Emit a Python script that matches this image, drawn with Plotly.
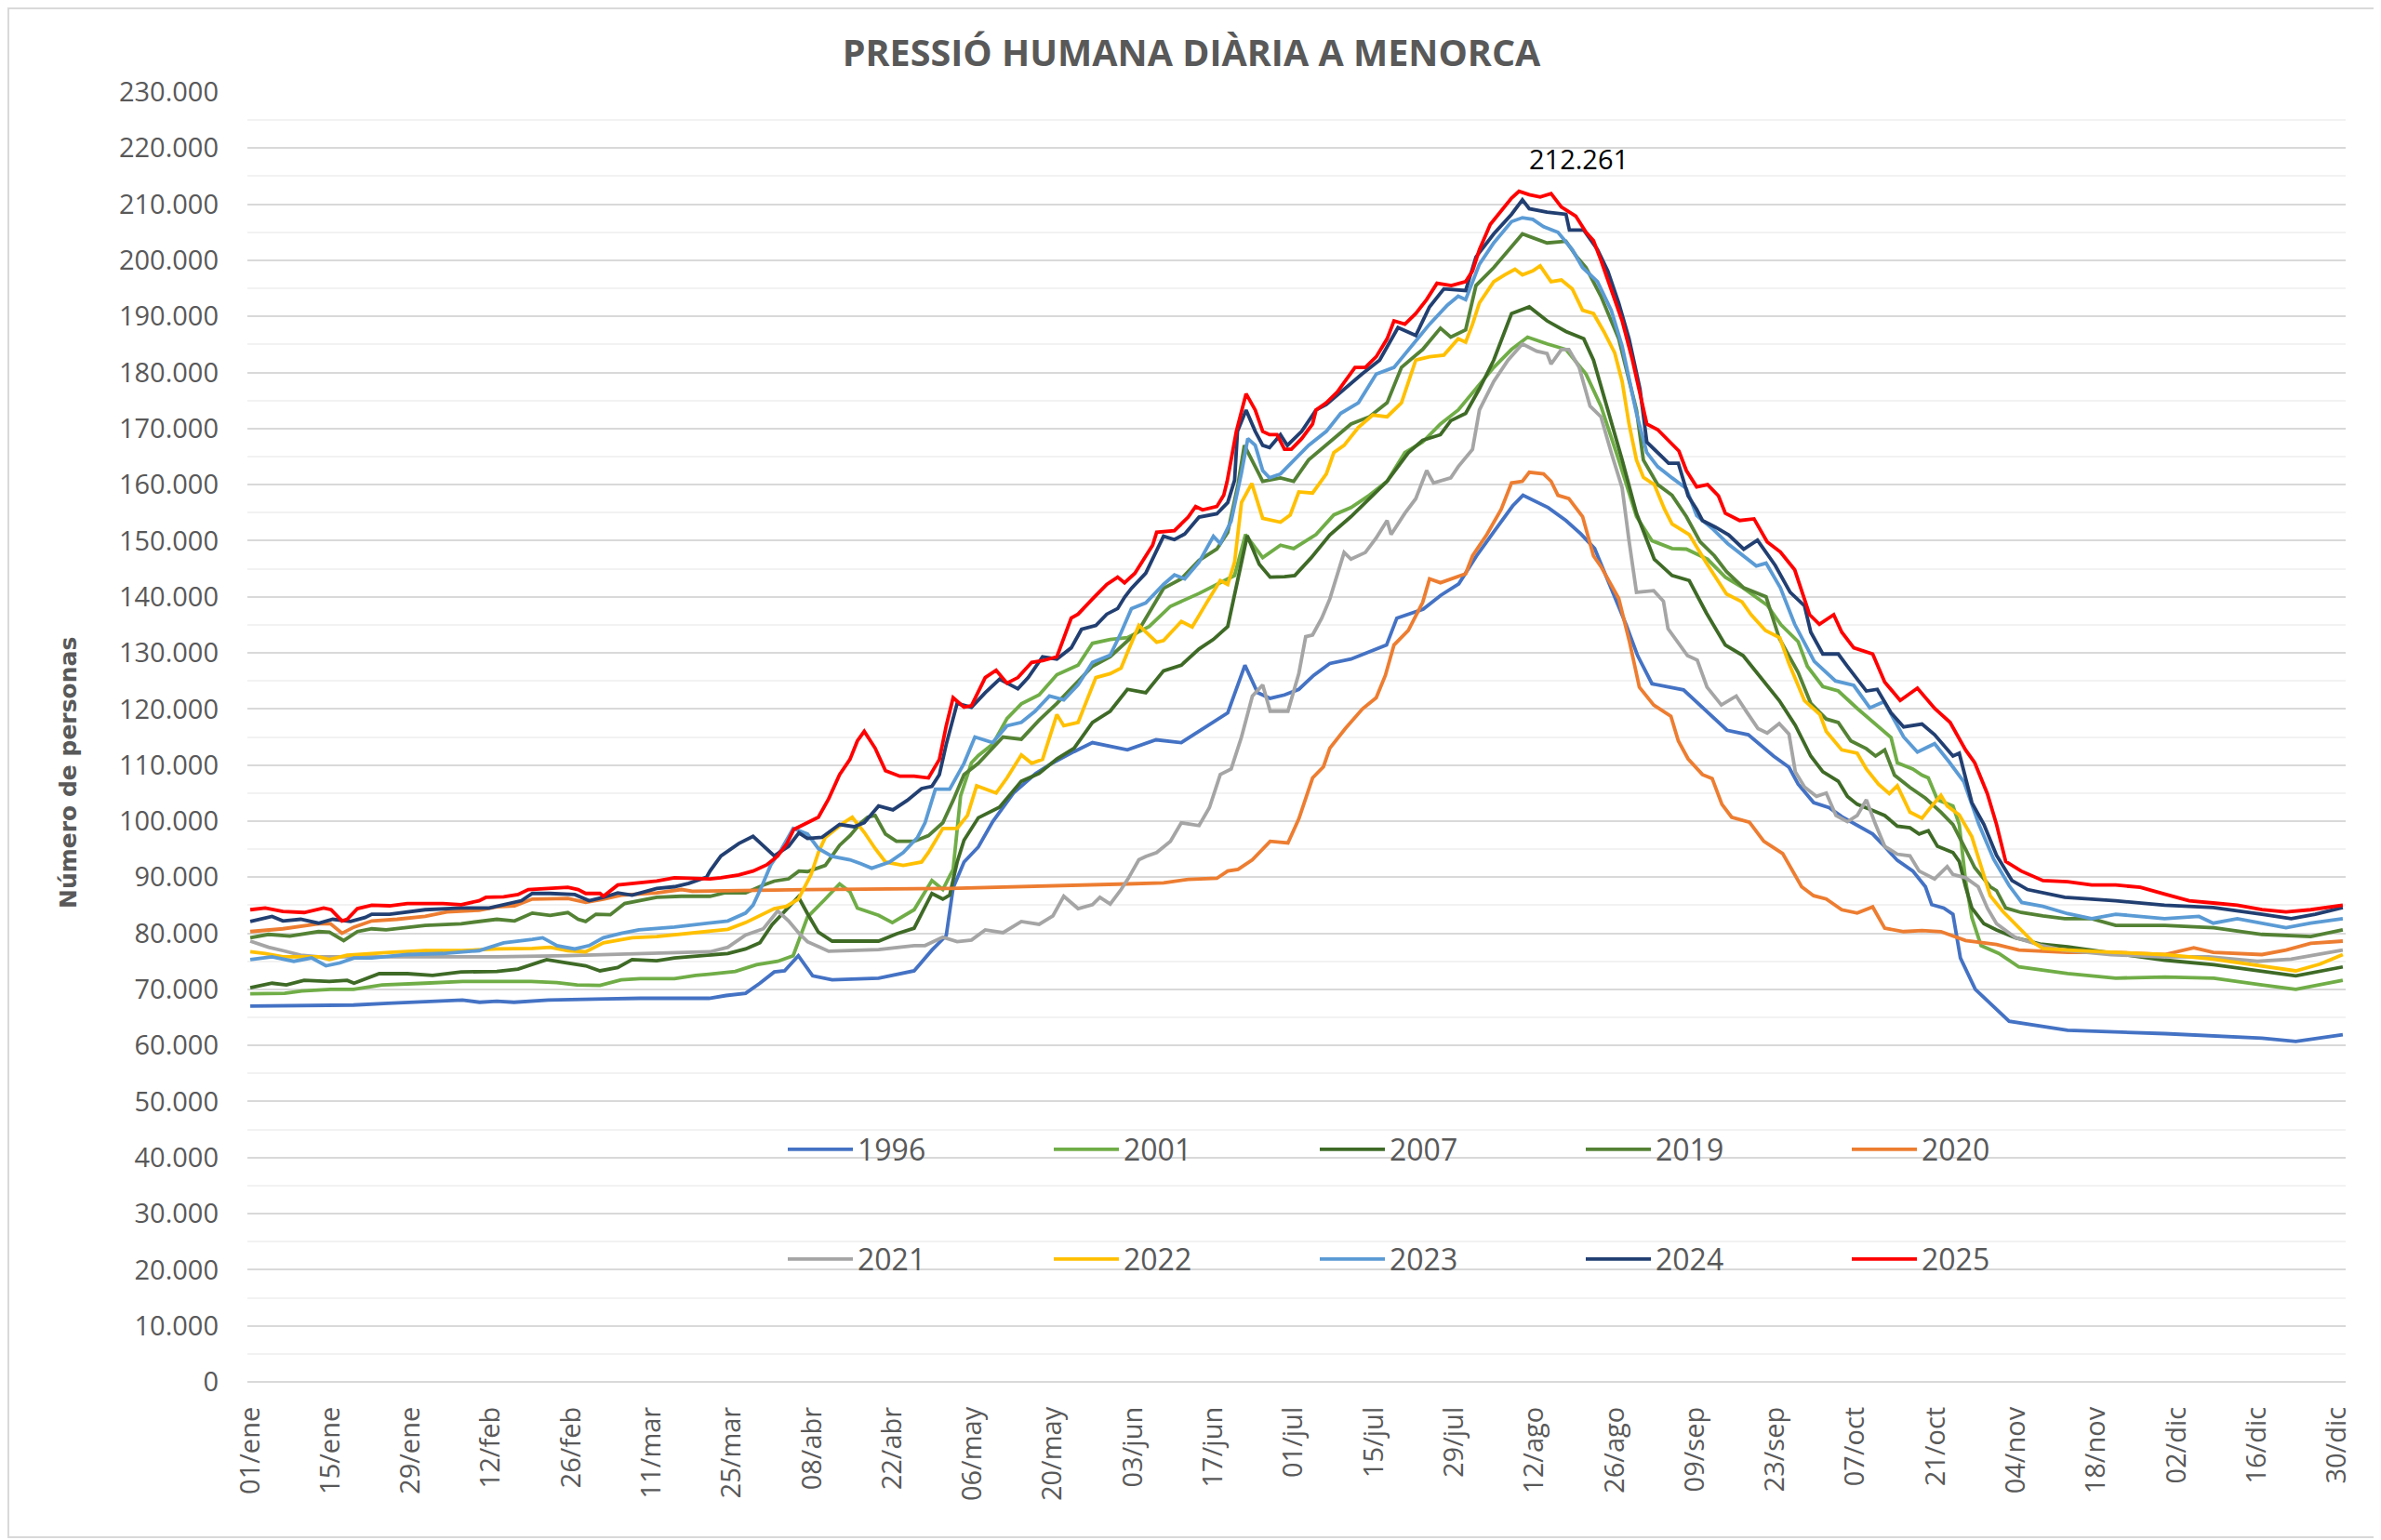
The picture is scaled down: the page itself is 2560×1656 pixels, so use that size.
import plotly.graph_objects as go

# ---------------- DATA (values in thousands of persons, x = day of year 0..365) ----------------
TICK_DAYS = list(range(0, 365, 14))
TICK_LABELS = ["01/ene", "15/ene", "29/ene", "12/feb", "26/feb", "11/mar", "25/mar", "08/abr",
               "22/abr", "06/may", "20/may", "03/jun", "17/jun", "01/jul", "15/jul", "29/jul",
               "12/ago", "26/ago", "09/sep", "23/sep", "07/oct", "21/oct", "04/nov", "18/nov",
               "02/dic", "16/dic", "30/dic"]

YEARS = ["1996", "2001", "2007", "2019", "2020", "2021", "2022", "2023", "2024", "2025"]

D_1996 = [0, 12, 18, 24, 37, 40, 43, 46, 52, 62, 68, 80, 83, 86.4, 88.9, 91.4, 93.2, 95.6, 98.1, 101.5,
          109.6, 115.8, 118.9, 121.4, 122.6, 124.5, 127, 129.5, 133.2, 137, 140, 143.7, 146.9, 153, 158,
          162.4, 165.5, 170.5, 173.5, 175.7, 177.9, 180.4, 182.9, 185.5, 188.3, 192, 198.2, 200, 204.6,
          207.7, 210.8, 213.9, 217, 220.2, 222, 226.4, 229.5, 232.1, 234.5, 237.6, 240, 242, 244.5, 250,
          257.6, 261.3, 265.7, 268.4, 270, 272.7, 275.4, 277.6, 280.3, 283, 284.6, 287.3, 290, 292.2,
          293.3, 295.4, 297, 298.3, 300.9, 304.2, 306.8, 317, 334, 350.9, 356.8, 365]
V_1996 = [67.0, 67.2, 67.2, 67.5, 68.1, 67.7, 67.9, 67.7, 68.1, 68.3, 68.4, 68.4, 68.9, 69.3, 71.1, 73.1,
          73.3, 76.0, 72.4, 71.7, 72.0, 73.3, 77.0, 79.6, 88.1, 92.7, 95.4, 99.9, 105.1, 108.5, 110.4,
          112.4, 114.0, 112.7, 114.5, 114.0, 116.0, 119.3, 127.8, 122.9, 121.9, 122.5, 123.5, 126.0,
          128.1, 128.9, 131.4, 136.2, 137.8, 140.3, 142.3, 147.3, 151.7, 156.2, 158.1, 155.9, 153.6,
          151.2, 148.6, 141.0, 135.0, 129.5, 124.5, 123.4, 116.2, 115.4, 111.6, 109.6, 106.6, 103.3,
          102.4, 100.8, 99.2, 97.7, 96.0, 93.0, 91.1, 88.3, 85.1, 84.5, 83.4, 75.6, 70.0, 66.8, 64.3,
          62.7, 62.1, 61.3, 60.7, 61.9]

D_2001 = [0, 6, 9, 14, 18, 23, 30.5, 37, 49, 53.5, 57, 61, 64.7, 68, 74, 77.7, 80, 84.6, 88.3, 92,
          94.7, 97.2, 100.3, 102.8, 104.6, 105.9, 109.6, 112, 115.8, 118.9, 120.8, 122.6, 123.9, 125.8,
          127, 129.5, 132, 134.5, 137.6, 140.7, 144.4, 146.9, 150, 153, 156.8, 160.5, 165.5, 169.2,
          171.7, 173.6, 176.6, 179.7, 182, 185.9, 189, 192, 195.2, 198.3, 201.4, 204.5, 207.6, 210.7,
          213.8, 216.9, 220, 222.8, 226.2, 229.5, 233, 235.6, 238.7, 241.8, 244.5, 248, 250.5, 254.2,
          257.3, 260.4, 264.6, 267, 270, 271.6, 274.3, 277, 280.3, 284, 286.2, 287.3, 290, 291.6, 292.7,
          294.3, 297, 298.1, 299.2, 300.3, 301.9, 305, 308.5, 317, 325.4, 334, 342.5, 350.9, 356.8, 365]
V_2001 = [69.2, 69.3, 69.7, 70.0, 70.0, 70.8, 71.1, 71.4, 71.4, 71.2, 70.8, 70.7, 71.7, 71.9, 71.9, 72.5,
          72.7, 73.2, 74.4, 75.0, 76.0, 82.9, 86.1, 88.8, 87.4, 84.5, 83.2, 81.9, 84.2, 89.4, 87.8, 91.4,
          104.5, 110.4, 111.7, 113.7, 118.3, 120.9, 122.5, 126.1, 127.8, 131.7, 132.4, 132.7, 134.7,
          138.3, 140.6, 142.5, 143.8, 151.1, 147.0, 149.2, 148.6, 151.1, 154.6, 155.9, 158.1, 160.6,
          165.7, 167.6, 170.8, 173.3, 177.1, 180.9, 184.1, 186.3, 185.1, 184.1, 179.7, 174.0, 164.4,
          154.3, 150.0, 148.6, 148.5, 146.7, 143.5, 141.6, 138.5, 135.0, 132.0, 127.6, 124.0, 123.2,
          120.1, 116.8, 114.9, 110.4, 109.3, 108.2, 107.7, 103.8, 102.7, 99.4, 89.4, 82.8, 77.8, 76.4,
          74.0, 72.8, 72.0, 72.2, 72.0, 70.8, 70.0, 71.6]

D_2007 = [0, 3.8, 6.3, 9.4, 13.8, 16.9, 18.1, 22.5, 27.4, 31.8, 36.8, 43, 46.7, 51.7, 55.4, 58.5, 61,
          64.1, 66.6, 70.9, 74, 80.2, 83.3, 86.4, 88.9, 91, 93.5, 95.6, 97.2, 99.1, 101.5, 109.6, 112.7,
          115.8, 117.1, 118.9, 120.8, 122, 123.3, 124.5, 127, 130.7, 134.5, 137.6, 140.7, 143.7, 146.9,
          150, 153, 156.2, 159.3, 162.4, 165.5, 168, 170.5, 171.7, 173.9, 176, 177.9, 180.4, 182.2, 185,
          188.3, 192, 195.2, 198.3, 202, 204.5, 207.6, 209.4, 212, 214.4, 216.9, 220, 223.1, 226.2,
          229.5, 232.6, 234.3, 236.8, 239.3, 241.8, 244.9, 248, 251, 254, 257.3, 260.4, 264, 266.7,
          269.5, 272.2, 274.3, 277, 278.6, 280.3, 283, 285.1, 287.3, 289.5, 291.1, 292.7, 294.3, 297,
          298.1, 299.2, 300.3, 302.4, 304.6, 307.9, 312.2, 317, 325.4, 334, 342.5, 350.9, 356.8, 365]
V_2007 = [70.3, 71.1, 70.8, 71.6, 71.4, 71.6, 71.1, 72.8, 72.8, 72.5, 73.1, 73.2, 73.6, 75.3, 74.7, 74.2,
          73.3, 73.9, 75.3, 75.1, 75.6, 76.1, 76.4, 77.2, 78.3, 81.5, 84.2, 86.5, 83.5, 80.2, 78.6, 78.6,
          79.9, 80.9, 83.5, 87.1, 86.1, 86.8, 92.7, 96.6, 100.6, 102.5, 107.1, 108.5, 111.1, 113.0,
          117.6, 119.6, 123.5, 122.9, 126.8, 127.8, 130.7, 132.4, 134.7, 140.6, 150.9, 145.8, 143.5,
          143.6, 143.8, 146.9, 151.0, 154.3, 157.5, 160.6, 165.7, 167.9, 168.9, 171.4, 172.7, 177.1,
          182.2, 190.5, 191.7, 189.2, 187.3, 186.0, 182.2, 173.3, 164.4, 154.9, 146.7, 143.8, 142.9,
          137.1, 131.4, 129.5, 124.8, 121.5, 117.1, 111.6, 108.8, 107.1, 104.4, 103.0, 101.9, 101.0,
          99.1, 98.8, 97.7, 98.3, 95.5, 94.4, 92.8, 88.3, 84.5, 81.7, 80.6, 79.2, 78.1, 77.6, 76.4,
          75.2, 74.4, 73.2, 72.4, 74.0]

D_2019 = [0, 3.2, 6.9, 11.9, 13.8, 16.3, 18.7, 21.2, 23.7, 27.4, 30.5, 36.8, 40.5, 43, 46.1, 49.2, 52.3,
          55.4, 57.2, 58.5, 60.3, 62.8, 65.3, 67.8, 70.9, 75.2, 80.2, 82.7, 86.4, 89.5, 91.4, 93.9, 95.7,
          97.2, 100.3, 102.8, 104.6, 106.5, 107.7, 109, 110.8, 112.7, 115.8, 118.3, 120.8, 122.6, 124.5,
          127, 129.5, 131.3, 134.5, 137.6, 140.7, 143.7, 146.9, 150, 153, 154.9, 159.3, 162.4, 165.5,
          168.6, 170.5, 172.3, 173.4, 175.3, 176.6, 179.7, 182, 184.6, 188.3, 192, 195.2, 198.3, 200.8,
          204.5, 207.6, 209.4, 212, 213.8, 216.9, 220, 221.9, 226.2, 229.5, 231.4, 233, 235.6, 238.7,
          241.8, 243, 245.5, 248, 250.5, 252.9, 255.4, 257.5, 260.5, 264.4, 266.7, 270, 272.2, 274.9,
          277, 279.2, 281.9, 283.5, 285.1, 286.8, 289.5, 292.2, 294.9, 297, 299.2, 300.8, 303.5, 304.6,
          306.2, 308.9, 312.7, 316.5, 321.2, 325.4, 334, 342.5, 350.9, 359.4, 365]
V_2019 = [79.2, 79.8, 79.5, 80.3, 80.2, 78.7, 80.3, 80.8, 80.6, 81.1, 81.4, 81.7, 82.2, 82.5, 82.2, 83.6,
          83.2, 83.7, 82.5, 82.1, 83.4, 83.3, 85.3, 85.8, 86.4, 86.6, 86.6, 87.2, 87.2, 88.6, 89.3, 89.7,
          91.1, 91.0, 92.1, 95.7, 97.4, 99.7, 100.7, 101.0, 97.7, 96.4, 96.4, 97.4, 99.7, 103.7, 108.3,
          110.3, 113.0, 115.0, 114.6, 118.0, 121.0, 124.3, 127.6, 129.3, 132.2, 133.9, 141.5, 143.2,
          146.5, 148.5, 151.5, 160.1, 167.0, 163.2, 160.6, 161.2, 160.6, 164.4, 167.6, 170.8, 172.1,
          174.6, 180.9, 184.1, 187.9, 186.3, 187.6, 195.5, 198.7, 202.5, 204.7, 203.1, 203.4, 200.6,
          198.7, 193.6, 186.0, 173.3, 164.4, 160.0, 158.1, 154.3, 149.8, 147.3, 144.5, 141.6, 140.0,
          132.6, 126.5, 121.0, 118.2, 117.6, 114.3, 112.9, 111.6, 112.7, 108.2, 106.0, 104.1, 101.6,
          99.4, 95.0, 91.7, 88.3, 87.6, 84.5, 83.7, 83.1, 82.6, 82.6, 81.4, 81.4, 81.0, 79.8, 79.4, 80.6]

D_2020 = [0, 5.7, 11.9, 14, 16, 18.1, 21.2, 25.6, 30.5, 34.3, 39.9, 43, 46.1, 49.2, 55.4, 58.5, 61.6,
          64.7, 70.9, 75.2, 77.1, 97, 122, 140, 153, 159.3, 163.6, 168.6, 170.5, 172.3, 174.8, 177.9,
          181, 182.9, 185.3, 187.2, 188.3, 191, 194, 196.4, 198, 199.5, 202, 204.5, 205.7, 207.6, 212,
          213.2, 215.7, 218.2, 220, 221.9, 223.1, 225.6, 226.9, 228.1, 230, 232.4, 234.3, 235.6, 238.7,
          240.6, 242.3, 244.8, 247.8, 249.1, 250.8, 253.3, 255, 256.7, 258.4, 261.5, 264, 267.3, 270.6,
          272.7, 274.9, 277.6, 280.3, 283, 285.1, 288.4, 291.6, 294.9, 299.2, 304.6, 308.5, 317, 325.4,
          333.9, 339, 342.4, 350.9, 355.1, 359.4, 365]
V_2020 = [80.3, 80.8, 81.7, 81.7, 80.0, 81.1, 82.2, 82.5, 83.0, 83.8, 84.1, 84.7, 84.9, 86.1, 86.2, 85.5,
          86.1, 86.8, 87.2, 87.8, 87.5, 87.8, 88.0, 88.4, 88.8, 89.0, 89.6, 89.8, 91.1, 91.4, 93.1, 96.4,
          96.1, 100.4, 107.7, 109.7, 113.0, 116.5, 120.0, 122.0, 126.0, 131.4, 134.0, 139.0, 143.2,
          142.5, 144.1, 147.3, 151.1, 155.6, 160.3, 160.6, 162.2, 161.9, 160.6, 158.1, 157.5, 154.3,
          147.3, 145.4, 139.7, 131.9, 123.9, 120.7, 118.7, 114.3, 111.1, 108.3, 107.6, 103.0, 100.7,
          99.8, 96.4, 94.2, 88.3, 86.7, 86.1, 84.2, 83.6, 84.7, 80.9, 80.3, 80.5, 80.3, 78.7, 78.0,
          77.0, 76.6, 76.6, 76.2, 77.4, 76.6, 76.2, 77.0, 78.2, 78.6]

D_2021 = [0, 3.2, 5.7, 8.8, 11.9, 30, 43, 55.4, 67.8, 80.2, 83.3, 86.4, 89.5, 92, 93.9, 95.7, 97.2,
          100.9, 109.6, 115.8, 117.7, 120.8, 123.3, 125.8, 128.2, 131.3, 134.5, 137.6, 140, 141.9,
          144.4, 146.9, 148.2, 150, 151.9, 153.1, 155, 156.2, 158.1, 160.5, 162.4, 165.5, 167.3, 169.2,
          171.1, 172.9, 174.8, 176.6, 177.9, 181, 182.9, 184.1, 185.3, 186.9, 188.3, 190.8, 192, 194.5,
          196.4, 198.3, 199, 201.4, 203.3, 205.2, 206.4, 209.4, 210.7, 213.2, 214.4, 216.9, 219.4,
          221.9, 224.4, 226.2, 226.9, 228.7, 230, 231.8, 233.7, 235.6, 237.4, 239.3, 240.5, 241.8,
          244.8, 246.5, 247.3, 250.7, 252.4, 254.1, 256.6, 259.2, 261, 263, 264.6, 266.7, 268.4, 269.5,
          271.1, 273.2, 274.9, 276.6, 278.6, 280.3, 281.9, 283.5, 285.1, 287.3, 289.5, 291.1, 293.8,
          296, 297, 299.2, 301.4, 303, 304.6, 307.9, 312.2, 316.1, 324.6, 333.1, 341.6, 350.1, 356,
          360.3, 365]
V_2021 = [78.6, 77.5, 76.9, 76.1, 75.8, 75.8, 75.8, 76.0, 76.4, 76.7, 77.5, 79.7, 80.8, 84.0, 82.2, 80.0,
          78.5, 76.8, 77.1, 77.8, 77.8, 79.3, 78.5, 78.8, 80.6, 80.1, 82.1, 81.6, 83.1, 86.6, 84.4, 85.1,
          86.4, 85.2, 87.8, 89.7, 93.1, 93.7, 94.4, 96.4, 99.7, 99.2, 102.4, 108.3, 109.3, 115.0, 122.3,
          124.3, 119.6, 119.6, 126.3, 132.9, 133.2, 136.2, 139.6, 147.9, 146.7, 147.9, 150.5, 153.6,
          151.1, 154.9, 157.5, 162.5, 160.3, 161.2, 163.2, 166.3, 173.3, 178.4, 182.2, 185.1, 183.8,
          183.4, 181.5, 184.1, 184.1, 180.9, 174.0, 172.1, 165.7, 159.4, 150.0, 140.8, 141.1, 139.2,
          134.3, 129.5, 128.7, 123.9, 120.7, 122.3, 119.5, 116.5, 115.7, 117.4, 115.5, 108.8, 106.1,
          104.4, 105.0, 101.0, 99.9, 101.0, 103.8, 99.4, 95.5, 94.1, 93.8, 91.1, 89.7, 91.9, 90.5,
          89.9, 88.3, 84.5, 81.7, 79.2, 77.9, 77.0, 76.2, 75.8, 75.8, 75.0, 75.4, 76.2, 77.0]

D_2022 = [0, 2.6, 5.7, 11.9, 13.8, 16.9, 24.3, 30.5, 36.8, 43, 49.2, 52.3, 55.4, 58.5, 61.6, 66.6, 70.9,
          77.1, 83.3, 86.4, 91.4, 93.5, 95.6, 97.8, 99.1, 100.3, 103.5, 105, 107.1, 109, 110.8, 113.9,
          117.1, 118.3, 120.8, 123.3, 125.1, 126.7, 128.2, 130.1, 132, 134.5, 136.3, 138.2, 140.7,
          141.9, 144.4, 145.7, 147.5, 150, 151.9, 153.1, 155, 158.1, 159.3, 162.4, 164.3, 166.8, 169.2,
          170.5, 171.7, 172.9, 174.7, 176.6, 179.7, 181.4, 182.9, 185.3, 187.7, 189, 190.8, 193.3,
          195.8, 198.3, 200.8, 203.3, 205.7, 208.2, 210.7, 212, 213.2, 214.4, 216.9, 218.8, 220.6,
          221.9, 223.7, 225, 226.9, 228.7, 230.6, 232.4, 234.3, 236.1, 238, 239.3, 240.5, 241.8, 243,
          244.9, 246.7, 248, 251, 254, 257.5, 260.2, 261.8, 264.3, 266.8, 268.4, 271.1, 273.8, 274.9,
          277.6, 280.3, 281.9, 284, 285.9, 287.3, 289.5, 291.6, 293.3, 294.9, 296, 298.1, 300.3, 301.9,
          303.5, 305.7, 308.4, 311.1, 312.7, 317, 325.4, 333.9, 342.4, 350.9, 356.8, 361, 365]
V_2022 = [76.7, 76.4, 75.8, 75.8, 75.3, 76.1, 76.6, 76.9, 76.9, 77.2, 77.3, 77.5, 76.9, 76.7, 78.3, 79.2,
          79.4, 80.0, 80.7, 81.9, 84.4, 84.8, 86.1, 90.4, 94.4, 97.1, 99.7, 100.7, 98.0, 95.1, 92.7,
          92.1, 92.7, 94.4, 98.7, 98.7, 101.0, 106.3, 105.7, 105.0, 107.7, 111.8, 110.3, 111.0, 119.0,
          117.0, 117.6, 121.0, 125.6, 126.3, 127.3, 130.3, 134.9, 131.9, 132.2, 135.6, 134.6, 138.9,
          142.9, 142.2, 146.2, 156.8, 160.2, 154.0, 153.3, 154.6, 158.7, 158.5, 161.9, 165.7, 167.0,
          170.2, 172.4, 172.1, 174.6, 182.2, 182.8, 183.1, 186.0, 185.4, 188.6, 192.4, 196.2, 197.4,
          198.4, 197.4, 198.1, 199.0, 196.2, 196.5, 194.9, 191.1, 190.5, 187.3, 183.5, 178.4, 170.8,
          164.4, 161.3, 160.0, 155.6, 153.0, 151.1, 146.0, 140.5, 139.1, 136.8, 134.0, 132.7, 128.1,
          121.5, 119.0, 116.0, 112.7, 112.1, 109.3, 106.6, 104.9, 106.3, 101.6, 100.5, 102.7, 104.6,
          102.7, 101.1, 97.2, 91.7, 86.7, 83.9, 81.1, 78.3, 77.3, 77.0, 76.6, 76.2, 75.4, 74.1, 73.3,
          74.5, 76.2]

D_2023 = [0, 3.8, 7.6, 10.7, 13.2, 15.6, 18.1, 21.2, 27.4, 33.6, 39.9, 44.2, 49.2, 51, 53.5, 56.6, 59.1,
          61.6, 64.7, 67.8, 74, 80.2, 83.3, 86.4, 87.7, 89.2, 90.8, 92.6, 94.7, 97.2, 99.1, 101.5, 104.6,
          106.5, 108.4, 111.5, 113.9, 116.4, 117.7, 119.5, 122, 124.5, 126.4, 129.5, 132, 134.5, 136.9,
          139.4, 141.9, 144.4, 146.9, 150, 151.9, 153.7, 156.2, 159.3, 161.2, 163, 165.5, 168, 169.2,
          171.1, 172.9, 174, 175.3, 176.6, 177.8, 179.7, 182.2, 184.6, 187.7, 190.2, 193.3, 196.4,
          199.5, 202.6, 205.7, 208.8, 210.7, 212, 214.4, 216.9, 220, 221.9, 223.7, 225.6, 228.1, 230.6,
          232.4, 235, 237.4, 239.3, 241.8, 243.6, 245.5, 248, 250.5, 252.3, 255.2, 257.7, 260.2, 262.7,
          264.4, 266.9, 269.4, 272.8, 276.5, 279.7, 282.5, 285, 288.4, 290.8, 293.8, 296.3, 298.9,
          301.5, 304.1, 306.8, 309, 312.7, 317, 321.2, 325.4, 333.9, 339.9, 342.4, 346.6, 350.9, 355.1,
          359.4, 365]
V_2023 = [75.3, 75.8, 75.0, 75.6, 74.2, 74.7, 75.6, 75.6, 76.2, 76.4, 76.9, 78.3, 78.9, 79.2, 77.8, 77.2,
          77.8, 79.2, 80.0, 80.6, 81.1, 81.9, 82.2, 83.6, 85.0, 88.3, 92.2, 94.9, 98.7, 97.7, 95.1, 93.7,
          93.1, 92.4, 91.6, 92.7, 94.4, 97.1, 99.7, 105.7, 105.7, 110.3, 115.0, 114.0, 117.0, 117.6,
          119.6, 122.3, 121.6, 124.3, 128.3, 129.6, 133.6, 137.9, 138.9, 142.2, 143.9, 143.2, 146.2,
          150.8, 149.5, 153.5, 162.1, 168.2, 167.0, 162.5, 161.2, 161.9, 164.4, 167.0, 169.5, 172.7,
          174.6, 179.7, 180.9, 184.7, 188.6, 192.0, 193.6, 193.0, 199.3, 203.1, 206.9, 207.6, 207.3,
          206.0, 205.0, 201.9, 198.7, 196.2, 191.1, 184.7, 172.7, 165.7, 163.2, 161.2, 159.3, 154.5,
          152.0, 149.5, 147.5, 145.5, 146.0, 141.6, 135.1, 128.5, 125.0, 124.2, 120.2, 121.3, 115.0,
          112.3, 113.8, 110.6, 107.0, 99.5, 93.2, 88.5, 85.5, 84.8, 83.5, 82.6, 83.4, 82.6, 83.0, 81.8,
          82.6, 81.8, 81.0, 81.8, 82.6]

D_2024 = [0, 3.8, 5.7, 8.8, 11.9, 14.4, 17.5, 20, 21.2, 24.3, 30.5, 36.8, 41.7, 45.4, 47.3, 49.2, 52.3,
          56.6, 59.1, 61.6, 64.1, 66.6, 70.9, 74, 76.5, 79.6, 80.2, 82.1, 85.2, 87.7, 89.5, 91.4, 93.9,
          95.7, 97.2, 99.7, 102.8, 105.3, 107.1, 109.6, 112.1, 114.6, 117.1, 118.9, 120.2, 121.4, 123.3,
          125.8, 128.2, 130.7, 133.9, 135.7, 138.2, 140.7, 143.2, 145, 147.5, 149.4, 151.3, 152.5, 153.7,
          156.2, 159.3, 161.2, 163, 165.5, 168.6, 170.5, 171.7, 172.2, 173.7, 175.3, 176.6, 177.8, 179.7,
          180.9, 183.4, 185.9, 187.7, 190.8, 193.9, 197, 200.2, 203.3, 205.7, 208.2, 210.7, 212, 213.8,
          216.9, 220, 221.9, 223.1, 226.2, 229.5, 230.1, 232.6, 235, 236.8, 238.7, 240.5, 242.4, 243.6,
          245.5, 247.4, 249.1, 250.8, 252.3, 253.3, 255.6, 257.9, 260.5, 262.9, 266, 268.6, 271.1, 272.2,
          274.3, 277, 278.6, 281.9, 283.8, 286.2, 288.4, 291.6, 293.8, 297, 298.1, 300.3, 302.4, 304.6,
          307.3, 310, 316.5, 325.4, 333.9, 342.4, 350.9, 356, 360.2, 365]
V_2024 = [82.1, 83.0, 82.2, 82.5, 81.8, 82.5, 82.1, 82.8, 83.4, 83.4, 84.2, 84.5, 84.5, 85.3, 85.8, 87.1,
          87.1, 86.9, 85.8, 86.4, 87.2, 86.8, 88.0, 88.3, 88.9, 90.0, 91.1, 93.8, 96.0, 97.3, 95.5, 93.8,
          95.5, 97.9, 96.9, 97.1, 99.4, 99.0, 99.7, 102.7, 102.0, 103.7, 105.8, 106.2, 108.3, 113.7,
          121.0, 120.3, 122.9, 125.3, 123.6, 125.6, 129.3, 128.9, 130.9, 134.2, 134.9, 136.9, 137.9,
          139.9, 141.5, 144.2, 150.8, 150.2, 151.2, 154.2, 154.8, 156.8, 160.8, 169.5, 173.3, 169.5,
          167.0, 166.6, 168.9, 167.0, 169.5, 173.3, 174.3, 177.1, 179.7, 182.2, 188.0, 186.6, 191.7,
          194.9, 194.6, 194.6, 200.6, 204.7, 208.2, 210.8, 209.2, 208.6, 208.2, 205.4, 205.4, 201.9,
          198.1, 192.4, 186.0, 177.1, 167.6, 165.7, 163.8, 163.8, 158.0, 155.6, 153.6, 152.4, 151.0,
          148.5, 150.1, 145.6, 140.8, 138.4, 133.7, 129.8, 129.8, 127.6, 123.2, 123.5, 119.3, 116.8,
          117.3, 115.4, 111.6, 112.1, 103.3, 99.4, 93.9, 89.4, 87.8, 86.4, 85.8, 85.0, 84.6, 83.4, 82.6,
          83.4, 84.6]

D_2025 = [0, 2.6, 5.7, 9.4, 12.8, 14.1, 16, 16.9, 18.7, 21.2, 24.3, 27.4, 33.6, 36.8, 39.9, 41.1, 44.2,
          46.7, 48.5, 52.3, 55.4, 57.2, 58.5, 61, 61.6, 64.1, 67.8, 70.9, 74, 80.2, 82.1, 85.2, 87.7,
          90.1, 92, 93.6, 94.8, 96.9, 99.1, 100.9, 102.8, 104.6, 105.9, 107.1, 109, 110.8, 113.3, 115.8,
          118.3, 120.2, 121.4, 122.6, 124.5, 125.8, 128.2, 130.1, 132, 133.9, 136.3, 138.2, 140.7, 143.2,
          144.4, 146.9, 149.4, 151.3, 152.5, 154.3, 157.4, 158.1, 161.2, 163.6, 164.9, 166.1, 168.6,
          169.8, 170.4, 172, 173.7, 175.3, 176.6, 177.8, 179.1, 180.4, 181.6, 183.4, 185.3, 185.9, 187.7,
          189.6, 191.4, 192.7, 194.5, 196.4, 198.3, 199.5, 201.4, 203.3, 205.2, 207, 209.5, 212, 213.2,
          214.4, 216.3, 218.2, 220, 221.3, 223.1, 225, 226.9, 228.7, 230, 231.2, 233, 234.3, 235.6,
          237.4, 239.3, 241.1, 242.4, 243.6, 245.5, 247.4, 249.2, 250.5, 252.3, 254.2, 256.1, 257.3,
          259.8, 262.3, 264.6, 266.9, 269.4, 272, 273.7, 276.2, 277.6, 279.7, 283, 285.1, 287.8, 290.8,
          293.8, 296.5, 299.2, 300.8, 303, 304.6, 306.2, 308.9, 312.7, 317, 321.2, 325.4, 329.7, 333.9,
          338.2, 342.4, 346.6, 350.9, 355.1, 359.4, 365]
V_2025 = [84.2, 84.5, 83.9, 83.7, 84.5, 84.2, 82.2, 82.5, 84.4, 85.0, 84.9, 85.3, 85.3, 85.1, 85.8, 86.4,
          86.5, 86.9, 87.8, 88.0, 88.2, 87.8, 87.1, 87.1, 86.6, 88.6, 88.9, 89.3, 89.9, 89.7, 89.9, 90.4,
          91.1, 92.2, 93.8, 96.0, 98.5, 99.6, 100.7, 104.0, 108.3, 111.0, 114.3, 116.0, 113.0, 109.0,
          108.0, 108.0, 107.7, 111.0, 117.0, 122.0, 120.3, 120.6, 125.6, 126.9, 124.6, 125.6, 128.3,
          128.6, 129.3, 136.2, 136.9, 139.6, 142.2, 143.5, 142.5, 144.2, 149.2, 151.5, 151.8, 154.2,
          156.1, 155.5, 156.1, 158.1, 160.6, 169.5, 176.2, 173.3, 169.5, 168.9, 168.9, 166.3, 166.3,
          168.2, 170.8, 173.3, 174.6, 176.5, 179.1, 180.9, 180.9, 182.8, 186.0, 189.2, 188.6, 190.5,
          193.0, 195.9, 195.5, 196.2, 198.1, 201.9, 206.4, 208.9, 211.1, 212.3, 211.7, 211.3, 211.9,
          209.5, 208.6, 207.9, 205.0, 203.5, 200.0, 194.9, 189.2, 182.2, 175.9, 170.8, 169.8, 167.9,
          166.0, 162.5, 159.6, 160.0, 158.0, 154.9, 153.6, 153.9, 149.8, 148.0, 144.8, 136.8, 135.1,
          136.8, 133.7, 130.9, 129.8, 124.8, 121.5, 123.7, 120.1, 117.6, 112.7, 110.4, 104.9, 99.4,
          92.8, 91.1, 89.4, 89.2, 88.6, 88.6, 88.2, 87.0, 85.8, 85.4, 85.0, 84.2, 83.8, 84.2, 85.0]

PEAK_2025 = 212261          # data label shown on the chart
PEAK_LABEL_DAY = 231.8      # where the label sits along the day axis

SERIES_DAYS = [D_1996, D_2001, D_2007, D_2019, D_2020, D_2021, D_2022, D_2023, D_2024, D_2025]
SERIES_VALS = [V_1996, V_2001, V_2007, V_2019, V_2020, V_2021, V_2022, V_2023, V_2024, V_2025]

# ---------------- STYLE ----------------
COLORS = ["#4472C4", "#70AD47", "#3E6A26", "#548235", "#ED7D31",
          "#A5A5A5", "#FFC000", "#5B9BD5", "#223F72", "#FF0000"]
TXT = "#595959"
NUM_FONT = "Open Sans"

# the page body adds an 8px offset; the figure is sized so it fills the window exactly
OFF = 8
W, H = 2560 - OFF, 1656 - OFF
L, R, T, B = 266 - OFF, 38, 99 - OFF, 170
PW, PH = W - L - R, H - T - B

def px_x(px):  # window pixel -> paper x
    return (px - OFF - L) / PW

def px_y(py):  # window pixel -> paper y
    return (H - B - (py - OFF)) / PH

fig = go.Figure()
for i, (yr, d, v) in enumerate(zip(YEARS, SERIES_DAYS, SERIES_VALS)):
    fig.add_trace(go.Scatter(
        x=d, y=[val * 1000 for val in v], mode="lines", name=yr,
        line=dict(color=COLORS[i], width=3.8),
        legend="legend" if i < 5 else "legend2",
        hoverinfo="skip",
    ))

legend_common = dict(orientation="h", xanchor="left", yanchor="middle",
                     entrywidth=201, entrywidthmode="pixels", itemwidth=70,
                     font=dict(family=NUM_FONT, size=32, color=TXT), bgcolor="rgba(0,0,0,0)")

fig.update_layout(
    width=W, height=H,
    margin=dict(l=L, r=R, t=T, b=B, autoexpand=False),
    paper_bgcolor="white", plot_bgcolor="white",
    separators=",.",
    title=dict(text="<b>PRESSIÓ HUMANA DIÀRIA A MENORCA</b>", x=(1281 - OFF) / W, xanchor="center",
               xref="container", y=1 - (57 - OFF) / H, yanchor="middle", yref="container",
               font=dict(family=NUM_FONT, size=39.5, color=TXT)),
    xaxis=dict(range=[-0.5, 365.5], tickmode="array", tickvals=TICK_DAYS, ticktext=TICK_LABELS,
               tickangle=-90, showgrid=False, zeroline=False, showline=False, ticks="",
               ticklabelstandoff=20,
               tickfont=dict(family=NUM_FONT, size=29, color=TXT)),
    yaxis=dict(range=[0, 230000], dtick=10000, tickformat=",d", showgrid=True,
               gridcolor="#D9D9D9", gridwidth=2, zeroline=True, zerolinecolor="#D9D9D9",
               zerolinewidth=2, showline=False, ticks="", ticklabelstandoff=30,
               minor=dict(dtick=5000, showgrid=True, gridcolor="#F2F2F2", gridwidth=2),
               tickfont=dict(family=NUM_FONT, size=29, color=TXT)),
    legend=dict(x=px_x(842), y=px_y(1236), **legend_common),
    legend2=dict(x=px_x(842), y=px_y(1354), **legend_common),
    showlegend=True,
)

# y-axis title
fig.add_annotation(text="<b>Número de personas</b>", xref="paper", yref="paper",
                   x=px_x(73), y=px_y(831), textangle=-90, showarrow=False,
                   xanchor="center", yanchor="middle",
                   font=dict(family="DejaVu Sans", size=25, color=TXT))

# peak data label
fig.add_annotation(text=f"{PEAK_2025:,}".replace(",", "."), x=PEAK_LABEL_DAY, y=218200,
                   xref="x", yref="y", showarrow=False, xanchor="center", yanchor="middle",
                   font=dict(family=NUM_FONT, size=29, color="#000000"))

# chart-area border
fig.add_shape(type="rect", xref="paper", yref="paper",
              x0=px_x(OFF + 1), x1=px_x(2556), y0=px_y(1653), y1=px_y(OFF + 1),
              line=dict(color="#D9D9D9", width=2), layer="below")

fig.write_html("out.html")
